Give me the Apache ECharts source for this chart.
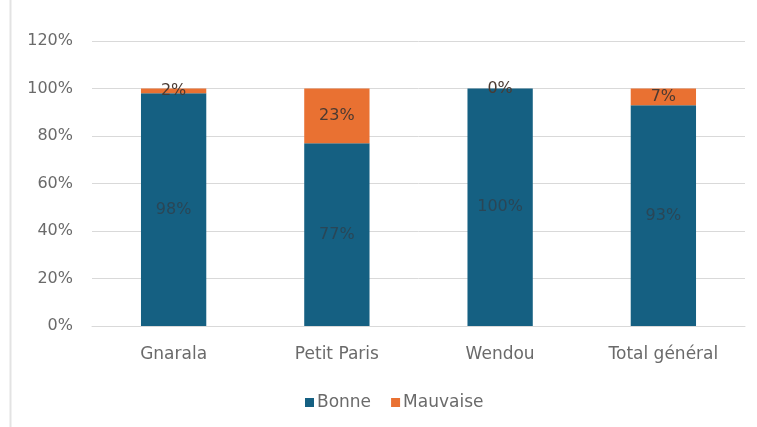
<!DOCTYPE html>
<html>
<head>
<meta charset="utf-8">
<script src="https://cdn.jsdelivr.net/npm/echarts@6/dist/echarts.min.js"></script>
<style>
  html, body { margin: 0; padding: 0; background: #ffffff; }
  #chart { width: 757px; height: 427px; }
</style>
</head>
<body>
<div id="chart"></div>
<script>
// Répartition Bonne / Mauvaise par site (en %)
const categories = ['Gnarala', 'Petit Paris', 'Wendou', 'Total général'];
const bonne = [98, 77, 100, 93];
const mauvaise = [2, 23, 0, 7];
const yTicks = [0, 20, 40, 60, 80, 100, 120];

const chart = echarts.init(document.getElementById('chart'));
const font = 'DejaVu Sans, sans-serif';
const textGrey = '#6a6a6a';

chart.setOption({
  animation: false,
  color: ['#156082', '#E97132'],
  grid: { left: 92, right: 12, top: 41, bottom: 101 },
  legend: {
    top: 389,
    left: 300,
    itemWidth: 9,
    itemHeight: 9,
    itemGap: 20,
    icon: 'rect',
    textStyle: { color: textGrey, fontSize: 17, fontFamily: font, padding: [0, 0, 0, -2] },
    data: ['Bonne', 'Mauvaise']
  },
  xAxis: {
    type: 'category',
    data: categories,
    axisLine: { lineStyle: { color: '#d9d9d9', width: 1 } },
    axisTick: { show: false },
    axisLabel: { color: textGrey, fontSize: 17, fontFamily: font, margin: 20 }
  },
  yAxis: {
    type: 'value',
    min: yTicks[0],
    max: yTicks[yTicks.length - 1],
    interval: 20,
    axisLine: { show: false },
    axisTick: { show: false },
    splitLine: { lineStyle: { color: '#d9d9d9', width: 1 } },
    axisLabel: { color: textGrey, fontSize: 16, fontFamily: font, margin: 19, formatter: '{value}%' }
  },
  series: [
    {
      name: 'Bonne',
      type: 'bar',
      stack: 'total',
      barWidth: '40%',
      data: bonne,
      label: {
        show: true,
        position: 'inside',
        formatter: '{c}%',
        color: '#2a4656',
        fontSize: 16,
        fontFamily: font
      }
    },
    {
      name: 'Mauvaise',
      type: 'bar',
      stack: 'total',
      barWidth: '40%',
      data: mauvaise,
      label: {
        show: true,
        position: 'inside',
        formatter: '{c}%',
        color: '#4a3a32',
        fontSize: 16,
        fontFamily: font
      }
    }
  ],
  graphic: [
    {
      type: 'line',
      shape: { x1: 10.5, y1: 0, x2: 10.5, y2: 427 },
      style: { stroke: '#e3e3e3', lineWidth: 2 }
    }
  ]
});
</script>
</body>
</html>
